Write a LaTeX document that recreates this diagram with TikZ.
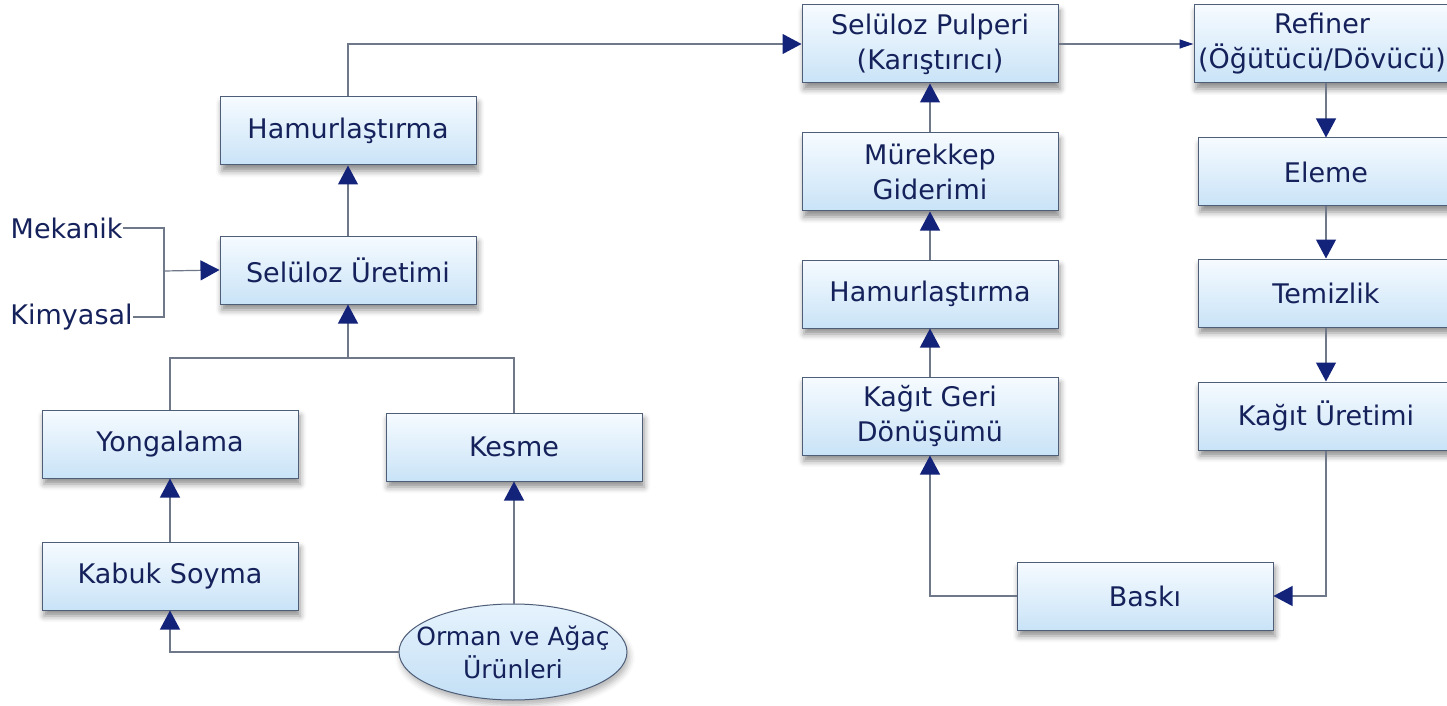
\documentclass[tikz,border=0pt]{standalone}
\usepackage{fontspec}
\setmainfont{DejaVu Sans}
\usetikzlibrary{arrows.meta,shapes.geometric,shadows.blur}

\definecolor{ink}{HTML}{15215A}
\definecolor{navy}{HTML}{14237A}
\definecolor{wirec}{HTML}{6E7888}
\definecolor{edgec}{HTML}{4E5E78}
\definecolor{paletop}{HTML}{F6FBFF}
\definecolor{palebot}{HTML}{C9E3F7}
\definecolor{ovaltop}{HTML}{E6F3FD}
\definecolor{ovalbot}{HTML}{C3DFF5}

\begin{document}
\begin{tikzpicture}[x=0.5pt,y=-0.5pt,
  font=\fontsize{13.5}{17.5}\selectfont,
  proc/.style={rectangle, draw=edgec, line width=0.5pt,
    top color=paletop, bottom color=palebot, text=ink, align=center,
    minimum width=128pt, minimum height=34pt, inner sep=2pt,
    blur shadow={shadow xshift=1pt, shadow yshift=-3pt,
      shadow blur radius=3pt, shadow opacity=45}},
  tallproc/.style={proc, minimum height=39pt},
  source/.style={ellipse, draw=edgec, line width=0.5pt,
    top color=ovaltop, bottom color=ovalbot, text=ink, align=center,
    font=\fontsize{12.5}{16.5}\selectfont,
    minimum width=114pt, minimum height=48pt,
    inner xsep=-12pt, inner ysep=1pt,
    blur shadow={shadow xshift=1pt, shadow yshift=-2.5pt,
      shadow blur radius=3pt, shadow opacity=30}},
  side/.style={text=ink, inner sep=0pt},
  wire/.style={draw=wirec, line width=0.6pt},
  arr/.style={wire, -{Triangle[length=9.5pt,width=10pt,color=navy]}},
  thinarr/.style={wire, -{Triangle[length=7pt,width=4.5pt,color=navy]}}
]
\useasboundingbox (0,0) rectangle (1447,706);

% wood processing branch
\node[proc] (hamL) at (348,131) {Hamurlaştırma};
\node[proc] (selu) at (348,270) {Selüloz Üretimi};
\node[proc] (yong) at (170,444) {Yongalama};
\node[proc] (kes)  at (514,447) {Kesme};
\node[proc] (kab)  at (170,576) {Kabuk Soyma};
\node[source] (orman) at (513,652) {Orman ve Ağaç\\Ürünleri};

\node[side, anchor=east] (mek) at (123,228) {Mekanik};
\node[side, anchor=east] (kim) at (133,317) {Kimyasal};

% recycling branch
\node[tallproc] (pulp) at (930,44)  {Selüloz Pulperi\\(Karıştırıcı)};
\node[tallproc] (mur)  at (930,172) {Mürekkep\\Giderimi};
\node[proc]     (hamR) at (930,294) {Hamurlaştırma};
\node[tallproc] (kgd)  at (930,416) {Kağıt Geri\\Dönüşümü};
\node[proc]     (bask) at (1145,596) {Baskı};

% paper line
\node[tallproc] (ref) at (1322,44)  {Refiner\\(Öğütücü/Dövücü)};
\node[proc]     (ele) at (1326,172) {Eleme};
\node[proc]     (tem) at (1326,293) {Temizlik};
\node[proc]     (kur) at (1326,416) {Kağıt Üretimi};

% junctions
\coordinate (jm) at (164,271);
\coordinate (jn) at (348,358);
\coordinate (jb) at (1326,596);

% connectors: wood branch
\draw[wire] (mek.east) -| (jm |- kim.east) -- (kim.east);
\draw[arr] (jm) -- (selu.west);
\draw[arr] (selu.north) -- (hamL.south);
\draw[wire] (yong.north) |- (kes.north |- jn) -- (kes.north);
\draw[arr] (jn) -- (selu.south);
\draw[arr] (kab.north) -- (yong.south);
\draw[arr] (orman.west) -| (kab.south);
\draw[arr] (orman.north -| kes.south) -- (kes.south);
\draw[arr] (hamL.north) |- (pulp.west);

% connectors: recycling branch
\draw[arr] (mur.north) -- (pulp.south);
\draw[arr] (hamR.north) -- (mur.south);
\draw[arr] (kgd.north) -- (hamR.south);
\draw[arr] (bask.west) -| (kgd.south);

% connectors: paper line
\draw[thinarr] (pulp.east) -- (ref.west);
\draw[arr] (ref.south -| ele.north) -- (ele.north);
\draw[arr] (ele.south) -- (tem.north);
\draw[arr] (tem.south) -- (kur.north);
\draw[arr] (kur.south) -- (jb) -- (bask.east);
\end{tikzpicture}
\end{document}
